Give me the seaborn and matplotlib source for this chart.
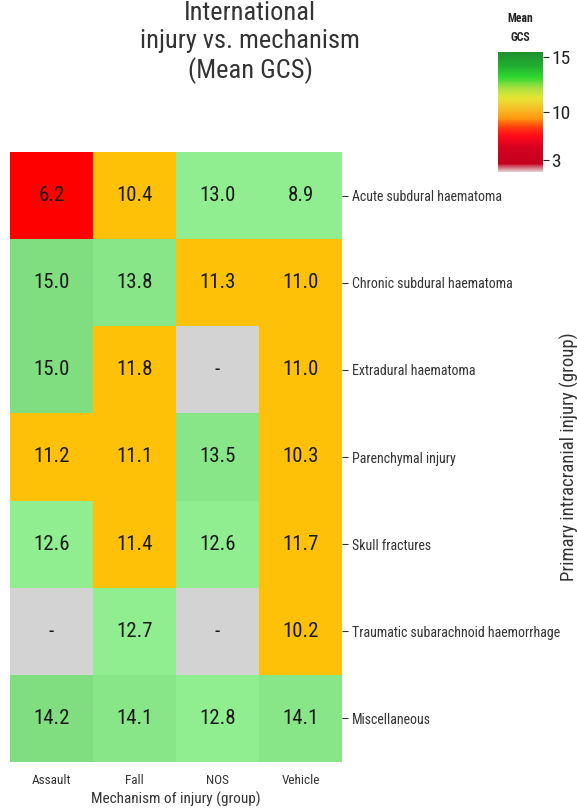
import numpy as np
import pandas as pd
import matplotlib
matplotlib.use("Agg")
import matplotlib.pyplot as plt
import seaborn as sns
from matplotlib.colors import ListedColormap, LinearSegmentedColormap, TwoSlopeNorm
from matplotlib.cm import ScalarMappable

# ---- data ----
mechanisms = ["Assault", "Fall", "NOS", "Vehicle"]
injuries = [
    "Acute subdural haematoma",
    "Chronic subdural haematoma",
    "Extradural haematoma",
    "Parenchymal injury",
    "Skull fractures",
    "Traumatic subarachnoid haemorrhage",
    "Miscellaneous",
]
mean_gcs = [
    [6.2, 10.4, 13.0, 8.9],
    [15.0, 13.8, 11.3, 11.0],
    [15.0, 11.8, np.nan, 11.0],
    [11.2, 11.1, 13.5, 10.3],
    [12.6, 11.4, 12.6, 11.7],
    [np.nan, 12.7, np.nan, 10.2],
    [14.2, 14.1, 12.8, 14.1],
]
# colour band of each cell as shown in the chart
band = [
    ["red", "amber", "green", "green"],
    ["green", "green", "amber", "amber"],
    ["green", "amber", None, "amber"],
    ["amber", "amber", "green", "amber"],
    ["green", "amber", "green", "amber"],
    [None, "green", None, "amber"],
    ["green", "green", "green", "green"],
]
cbar_ticks = [3, 10, 15]

# ---- style ----
sns.set_theme(style="white")
plt.rcParams["font.family"] = ["Roboto Condensed", "Liberation Sans Narrow",
                               "Liberation Sans", "DejaVu Sans"]

vals = np.array(mean_gcs, dtype=float)
codes = np.zeros(vals.shape)
for i in range(vals.shape[0]):
    for j in range(vals.shape[1]):
        b = band[i][j]
        v = vals[i, j]
        if b is None:
            codes[i, j] = 5
        elif b == "red":
            codes[i, j] = 0
        elif b == "amber":
            codes[i, j] = 1
        else:
            codes[i, j] = 2 if v < 13.2 else (3 if v < 14.15 else 4)

code_df = pd.DataFrame(codes, index=injuries, columns=mechanisms)
annot = np.array([["-" if np.isnan(v) else f"{v:.1f}" for v in row] for row in vals])

cell_cmap = ListedColormap(["#FF0000", "#FFC107", "#90EE90", "#88E688", "#80DD80", "#D3D3D3"])

fig = plt.figure(figsize=(5.77, 8.10), dpi=100)
ax = fig.add_axes([10 / 577, 1 - 762 / 810, 332 / 577, 610 / 810])
sns.heatmap(code_df, ax=ax, cmap=cell_cmap, vmin=-0.5, vmax=5.5, cbar=False,
            annot=annot, fmt="", annot_kws={"fontsize": 15, "color": "#1a1a1a"})

ax.yaxis.tick_right()
ax.yaxis.set_label_position("right")
ax.tick_params(axis="y", right=True, length=4, width=0.8, color="#333333",
               labelsize=10, labelcolor="#333333", rotation=0, pad=3)
ax.tick_params(axis="x", bottom=False, length=0, labelsize=9.5, labelcolor="#333333", pad=9)
ax.set_xlabel("Mechanism of injury (group)", fontsize=11, color="#333333", labelpad=3)
ax.set_ylabel("Primary intracranial injury (group)", fontsize=13.5, color="#333333",
              rotation=90)
ax.yaxis.set_label_coords(1.655, 0.5)

fig.text(250 / 577, 0.999, "International\ninjury vs. mechanism\n(Mean GCS)",
         ha="center", va="top", fontsize=19, color="#333333", linespacing=1.22)

# ---- colour bar ----
cb_cmap = LinearSegmentedColormap.from_list("gcs", [
    (0.0, "#E4D6D8"),
    (0.07, "#C4001E"),
    (0.2, "#D4001F"),
    (0.3, "#FF0A1A"),
    (0.37, "#FF3A10"),
    (0.45, "#FF9A10"),
    (0.55, "#F2C82E"),
    (0.62, "#E6E632"),
    (0.70, "#A8E040"),
    (0.79, "#30D830"),
    (0.88, "#22B030"),
    (1.0, "#1E9030"),
])
norm = TwoSlopeNorm(vmin=1.2, vcenter=10, vmax=15.5)
cax = fig.add_axes([498 / 577, 1 - 172 / 810, 45 / 577, 120 / 810])
cb = fig.colorbar(ScalarMappable(norm=norm, cmap=cb_cmap), cax=cax, ticks=cbar_ticks)
cb.outline.set_visible(False)
cax.tick_params(length=4, width=0.8, labelsize=14, color="#222222", labelcolor="#222222", pad=2)
fig.text(520 / 577, 1 - 12 / 810, "Mean\nGCS", ha="center", va="top", fontsize=8.5,
         fontweight="bold", color="#222222", linespacing=1.6)

fig.savefig("out.png", dpi=100)
